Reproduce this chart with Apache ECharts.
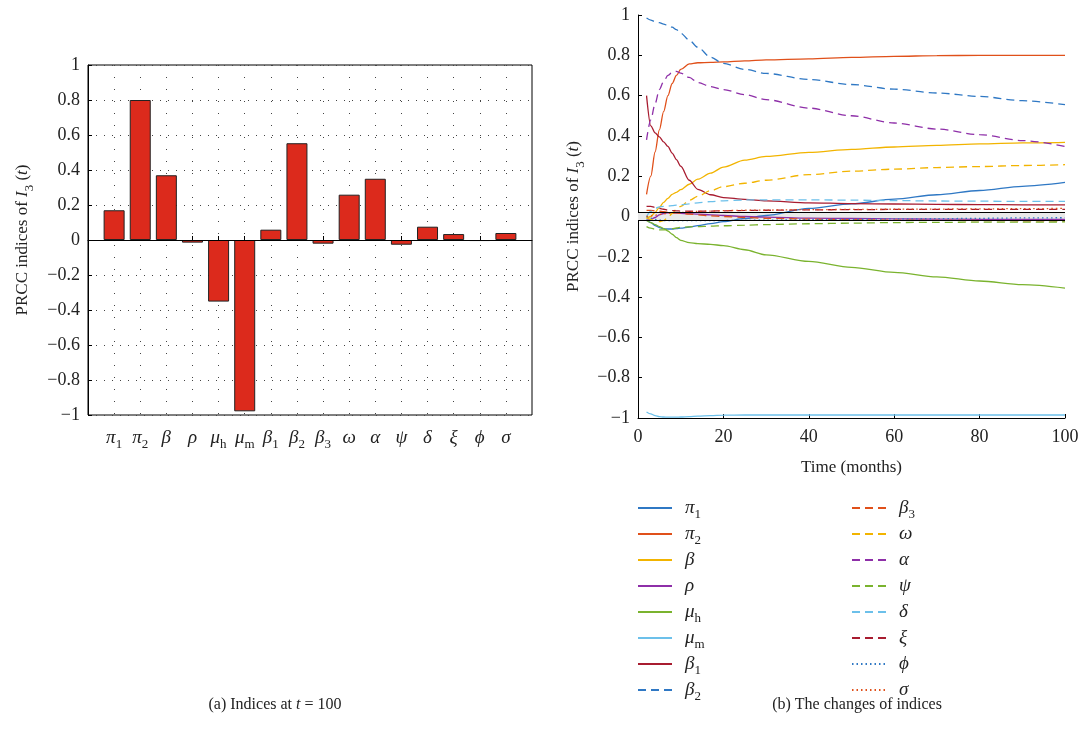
<!DOCTYPE html>
<html>
<head>
<meta charset="utf-8">
<script src="https://cdn.jsdelivr.net/npm/echarts@6/dist/echarts.min.js"></script>
<style>
    html, body { margin: 0; padding: 0; background: #fff; }
    #main { width: 1084px; height: 744px; }
</style>
</head>
<body>
<div id="main"></div>
<script>
    // PRCC indices of I3(t): (a) bars at t = 100, (b) change over time

    var paramNames = ['π1', 'π2', 'β', 'ρ', 'μh', 'μm', 'β1', 'β2', 'β3', 'ω', 'α', 'ψ', 'δ', 'ξ', 'ϕ', 'σ'];

    // (a) values at t = 100
    var indexValues = [0.17, 0.80, 0.37, -0.015, -0.352, -0.979, 0.059, 0.553, -0.021, 0.259, 0.35, -0.027, 0.076, 0.034, -0.006, 0.04];

    // (b) time courses
    var timeMonths = [2, 3, 4, 5, 6, 7, 8, 9, 10, 12, 14, 17, 20, 25, 30, 40, 50, 60, 70, 80, 90, 100];
    var pi1 = [-0.015, -0.03, -0.045, -0.055, -0.06, -0.062, -0.062, -0.06, -0.058, -0.052, -0.045, -0.035, -0.025, -0.01, 0.005, 0.04, 0.063, 0.086, 0.108, 0.129, 0.15, 0.169];
    var pi2 = [0.11, 0.2, 0.32, 0.43, 0.52, 0.6, 0.66, 0.7, 0.73, 0.757, 0.763, 0.765, 0.767, 0.772, 0.777, 0.782, 0.79, 0.795, 0.798, 0.8, 0.8, 0.8];
    var beta = [-0.01, 0.0, 0.02, 0.045, 0.07, 0.09, 0.11, 0.12, 0.133, 0.16, 0.185, 0.215, 0.245, 0.28, 0.298, 0.318, 0.333, 0.345, 0.353, 0.36, 0.365, 0.368];
    var rho = [-0.02, -0.015, -0.005, 0.008, 0.015, 0.018, 0.018, 0.017, 0.016, 0.014, 0.012, 0.008, 0.005, 0.0, -0.003, -0.008, -0.01, -0.012, -0.013, -0.014, -0.015, -0.015];
    var muH = [-0.02, -0.03, -0.04, -0.05, -0.06, -0.072, -0.088, -0.105, -0.118, -0.13, -0.135, -0.138, -0.145, -0.165, -0.19, -0.223, -0.252, -0.277, -0.3, -0.32, -0.338, -0.355];
    var muM = [-0.97, -0.98, -0.988, -0.993, -0.995, -0.996, -0.996, -0.996, -0.995, -0.993, -0.991, -0.988, -0.986, -0.985, -0.985, -0.985, -0.985, -0.985, -0.985, -0.985, -0.985, -0.985];
    var beta1 = [0.6, 0.45, 0.415, 0.395, 0.37, 0.348, 0.315, 0.282, 0.25, 0.18, 0.135, 0.108, 0.094, 0.085, 0.078, 0.068, 0.064, 0.062, 0.06, 0.059, 0.058, 0.058];
    var beta2 = [0.985, 0.975, 0.967, 0.962, 0.955, 0.948, 0.94, 0.927, 0.91, 0.875, 0.84, 0.79, 0.76, 0.73, 0.71, 0.68, 0.655, 0.632, 0.613, 0.596, 0.575, 0.555];
    var beta3 = [0.03, 0.03, 0.028, 0.026, 0.024, 0.022, 0.02, 0.018, 0.016, 0.012, 0.008, 0.003, 0.0, -0.005, -0.009, -0.013, -0.016, -0.018, -0.019, -0.02, -0.021, -0.021];
    var omega = [-0.005, -0.015, -0.022, -0.025, -0.02, -0.005, 0.015, 0.035, 0.05, 0.08, 0.1, 0.128, 0.148, 0.165, 0.18, 0.208, 0.225, 0.235, 0.243, 0.248, 0.253, 0.257];
    var alpha = [0.38, 0.48, 0.56, 0.63, 0.67, 0.7, 0.715, 0.72, 0.712, 0.69, 0.665, 0.645, 0.63, 0.605, 0.58, 0.538, 0.5, 0.464, 0.434, 0.406, 0.377, 0.348];
    var psi = [-0.05, -0.058, -0.063, -0.066, -0.066, -0.064, -0.06, -0.057, -0.054, -0.051, -0.05, -0.048, -0.046, -0.043, -0.04, -0.036, -0.033, -0.03, -0.029, -0.028, -0.028, -0.027];
    var delta = [0.0, 0.025, 0.04, 0.048, 0.05, 0.052, 0.054, 0.056, 0.058, 0.063, 0.068, 0.074, 0.078, 0.082, 0.083, 0.083, 0.081, 0.079, 0.077, 0.076, 0.075, 0.075];
    var xi = [0.05, 0.05, 0.045, 0.04, 0.036, 0.032, 0.03, 0.028, 0.027, 0.026, 0.026, 0.027, 0.028, 0.03, 0.031, 0.033, 0.034, 0.035, 0.035, 0.035, 0.035, 0.035];
    var phi = [0.0, -0.008, -0.014, -0.018, -0.02, -0.02, -0.02, -0.02, -0.02, -0.02, -0.02, -0.02, -0.02, -0.019, -0.018, -0.016, -0.014, -0.012, -0.011, -0.009, -0.007, -0.006];
    var sigma = [0.0, 0.003, 0.006, 0.01, 0.013, 0.015, 0.017, 0.019, 0.02, 0.023, 0.025, 0.027, 0.029, 0.031, 0.032, 0.034, 0.035, 0.036, 0.037, 0.038, 0.039, 0.04];

    var lineSets = [pi1, pi2, beta, rho, muH, muM, beta1, beta2, beta3, omega, alpha, psi, delta, xi, phi, sigma];

    // threshold band around zero
    var bandLimits = [-0.02, 0.02];

    // styles
    var palette = ['#2f78c4', '#e0501a', '#f2b400', '#8e2fa8', '#7ab32e', '#6cc0ea', '#a81c30'];
    var dashed = [8, 5],
        dotted = [1.5, 3];

    var serif = '"Liberation Serif", "DejaVu Serif", serif';

    function richName(n) {
        var g = n.charAt(0),
            s = n.slice(1);
        return '{g|' + g + '}' + (s ? '{s|' + s + '}' : '');
    }

    function tickFmt(v) {
        var r = +(+v).toFixed(1);
        if (r === 0) return '0';
        return r < 0 ? '−' + Math.abs(r) : String(r);
    }

    var richStyle = {
        g: { fontFamily: serif, fontStyle: 'italic', fontSize: 19, lineHeight: 26, color: '#222' },
        s: { fontFamily: serif, fontSize: 13, lineHeight: 14, verticalAlign: 'bottom', color: '#222' },
        n: { fontFamily: serif, fontSize: 17, lineHeight: 26, color: '#222' },
        i: { fontFamily: serif, fontStyle: 'italic', fontSize: 17, lineHeight: 26, color: '#222' }
    };

    // categories padded with blanks at both ends
    var barCats = [''].concat(paramNames, ['']);
    var barData = ['-'].concat(indexValues, ['-']);

    var series = [{
        type: 'bar',
        xAxisIndex: 0,
        yAxisIndex: 0,
        data: barData,
        barWidth: 21,
        itemStyle: { color: '#dc2a1c', borderColor: '#222', borderWidth: 1 },
        markLine: {
            silent: true,
            symbol: 'none',
            label: { show: false },
            lineStyle: { color: '#000', width: 1, type: 'solid' },
            data: [{ yAxis: 0 }]
        }
    }, {
        type: 'line',
        name: 'band',
        xAxisIndex: 1,
        yAxisIndex: 1,
        data: [],
        silent: true,
        markArea: {
            silent: true,
            itemStyle: { color: '#e9e9e9' },
            data: [[{ yAxis: bandLimits[0] }, { yAxis: bandLimits[1] }]]
        },
        markLine: {
            silent: true,
            symbol: 'none',
            label: { show: false },
            lineStyle: { color: '#000', width: 1, type: 'solid' },
            data: [{ yAxis: bandLimits[0] }, { yAxis: bandLimits[1] }]
        }
    }];

    paramNames.forEach(function (n, k) {
        var dash = k < 7 ? 'solid' : (k < 14 ? dashed : dotted);
        series.push({
            type: 'line',
            name: n,
            xAxisIndex: 1,
            yAxisIndex: 1,
            symbol: 'none',
            smooth: 0.3,
            smoothMonotone: 'x',
            color: palette[k % 7],
            lineStyle: { width: 1.3, type: dash, color: palette[k % 7] },
            data: timeMonths.map(function (t, j) { return [t, lineSets[k][j]]; })
        });
    });

    var legendBase = {
        orient: 'vertical',
        itemWidth: 34,
        itemHeight: 14,
        itemGap: 0,
        height: 240,
        itemStyle: { opacity: 0 },
        formatter: richName,
        textStyle: { padding: [0, 0, 0, 8], height: 26, lineHeight: 26, rich: richStyle }
    };

    var option = {
        animation: false,
        backgroundColor: '#fff',
        textStyle: { fontFamily: serif },
        title: [{
            text: '{n|(a) Indices at }{i|t}{n| = 100}',
            left: 270,
            top: 692,
            textAlign: 'center',
            textStyle: {
                fontWeight: 'normal',
                rich: {
                    n: { fontFamily: serif, fontSize: 16, fontWeight: 'normal', color: '#222' },
                    i: { fontFamily: serif, fontSize: 16, fontWeight: 'normal', fontStyle: 'italic', color: '#222' }
                }
            }
        }, {
            text: '(b) The changes of indices',
            left: 852,
            top: 692,
            textAlign: 'center',
            textStyle: { fontFamily: serif, fontSize: 16, fontWeight: 'normal', color: '#222' }
        }],
        legend: [
            Object.assign({}, legendBase, { left: 632, top: 490, data: paramNames.slice(0, 8) }),
            Object.assign({}, legendBase, { left: 846, top: 490, data: paramNames.slice(8) })
        ],
        grid: [{
            left: 88, top: 65, right: 552, bottom: 329,
            show: true, borderColor: '#000', borderWidth: 1
        }, {
            left: 638, top: 15, right: 19, bottom: 326
        }],
        xAxis: [{
            type: 'category',
            gridIndex: 0,
            data: barCats,
            boundaryGap: false,
            axisLine: { lineStyle: { color: '#000' } },
            axisTick: {
                inside: true, length: 4, lineStyle: { color: '#000' },
                interval: function (i) { return i > 0 && i < barCats.length - 1; }
            },
            axisLabel: {
                interval: 0, margin: 10,
                formatter: function (v) { return v ? richName(v) : ''; },
                rich: richStyle
            },
            splitLine: {
                show: true,
                interval: function (i) { return i > 0 && i < barCats.length - 1; },
                lineStyle: { color: '#444', type: [1, 11], width: 1 }
            }
        }, {
            type: 'value',
            gridIndex: 1,
            min: 0, max: 100, interval: 20,
            name: 'Time (months)',
            nameLocation: 'middle',
            nameGap: 41,
            nameTextStyle: { fontFamily: serif, fontSize: 17, color: '#222' },
            axisLine: { onZero: false, lineStyle: { color: '#000' } },
            axisTick: { inside: true, length: 4, lineStyle: { color: '#000' } },
            axisLabel: { fontFamily: serif, fontSize: 18, color: '#222', margin: 10 },
            splitLine: { show: false }
        }],
        yAxis: [{
            type: 'value',
            gridIndex: 0,
            min: -1, max: 1, interval: 0.2,
            name: '{n|PRCC indices of }{i|I}{s|3}{n| (}{i|t}{n|)}',
            nameLocation: 'middle',
            nameRotate: 90,
            nameGap: 52,
            nameTextStyle: { rich: richStyle },
            axisLine: { show: true, lineStyle: { color: '#000' } },
            axisTick: { show: true, inside: true, length: 4, lineStyle: { color: '#000' } },
            axisLabel: { fontFamily: serif, fontSize: 18, color: '#222', formatter: tickFmt, margin: 8 },
            splitLine: { show: true, lineStyle: { color: '#444', type: [1, 7], width: 1 } }
        }, {
            type: 'value',
            gridIndex: 1,
            min: -1, max: 1, interval: 0.2,
            name: '{n|PRCC indices of }{i|I}{s|3}{n| (}{i|t}{n|)}',
            nameLocation: 'middle',
            nameRotate: 90,
            nameGap: 51,
            nameTextStyle: { rich: richStyle },
            axisLine: { show: true, lineStyle: { color: '#000' } },
            axisTick: { show: true, inside: true, length: 4, lineStyle: { color: '#000' } },
            axisLabel: { fontFamily: serif, fontSize: 18, color: '#222', formatter: tickFmt, margin: 8 },
            splitLine: { show: false }
        }],
        series: series
    };

    var chart = echarts.init(document.getElementById('main'), null, { renderer: 'canvas' });
    chart.setOption(option);
</script>
</body>
</html>
